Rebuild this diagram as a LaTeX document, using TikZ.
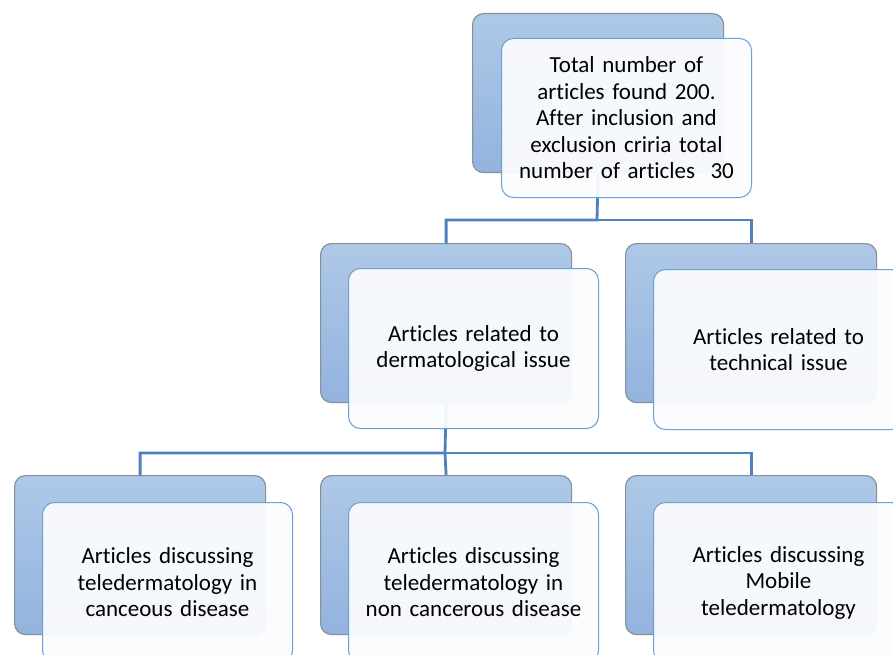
\documentclass[tikz,border=0pt]{standalone}
\usepackage{fontspec}
\setmainfont{Carlito}[Ligatures={NoCommon,NoRare,NoDiscretionary},Contextuals=NoAlternate]
\begin{document}
\begin{tikzpicture}[x=1pt,y=-1pt,
  backbox/.style={draw=backedge,line width=1.2pt,rounded corners=11pt,top color=backtop,bottom color=backbot,minimum width=251pt,minimum height=159pt,anchor=north west,inner sep=0pt},
  frontbox/.style={draw=frontedge,line width=1pt,rounded corners=12pt,fill=frontfill,fill opacity=0.94,text opacity=1,minimum width=250pt,minimum height=160pt,anchor=north west,align=center,inner sep=0pt,font=\fontsize{23}{26.5}\selectfont,text width=244pt},
  link/.style={draw=linkblue,line width=2.8pt}]
\definecolor{backedge}{HTML}{878F99}
\definecolor{backtop}{HTML}{AEC8E7}
\definecolor{backbot}{HTML}{93B3DE}
\definecolor{frontedge}{HTML}{6A9FD8}
\definecolor{frontfill}{HTML}{FBFCFE}
\definecolor{linkblue}{HTML}{4F81BD}
\useasboundingbox (0,0) rectangle (893,655);
\clip (0,0) rectangle (893,655);
\fill[white] (0,0) rectangle (893,655);
% back boxes
\node[backbox] (b0) at (472,13) {};
\node[backbox] (b1) at (320,243) {};
\node[backbox] (b2) at (625,243) {};
\node[backbox] (b3) at (14,475) {};
\node[backbox] (b4) at (320,475) {};
\node[backbox] (b5) at (625,475) {};
% connectors
\coordinate (j1) at (597,220);
\coordinate (j2) at (445,453);
\draw[link] (b0.south) -- (j1) -| (b1.north);
\draw[link] (j1) -| (b2.north);
\draw[link] (b1.south) -- (j2) -| (b3.north);
\draw[link] (j2) -- (b4.north);
\draw[link] (j2) -| (b5.north);
% front boxes
\node[frontbox,minimum height=159pt] (f0) at (501,38) {Total number of\\articles found 200.\\After inclusion and\\exclusion criria total\\number of articles~~30};
\node[frontbox] (f1) at (348,268) {Articles related to\\dermatological issue};
\node[frontbox] (f2) at (653,269) {Articles related to\\technical issue};
\node[frontbox] (f3) at (42,502) {Articles discussing\\teledermatology in\\canceous disease};
\node[frontbox] (f4) at (348,502) {Articles discussing\\teledermatology in\\non cancerous disease};
\node[frontbox] (f5) at (653,502) {Articles discussing\\Mobile\\teledermatology};
\end{tikzpicture}
\end{document}
